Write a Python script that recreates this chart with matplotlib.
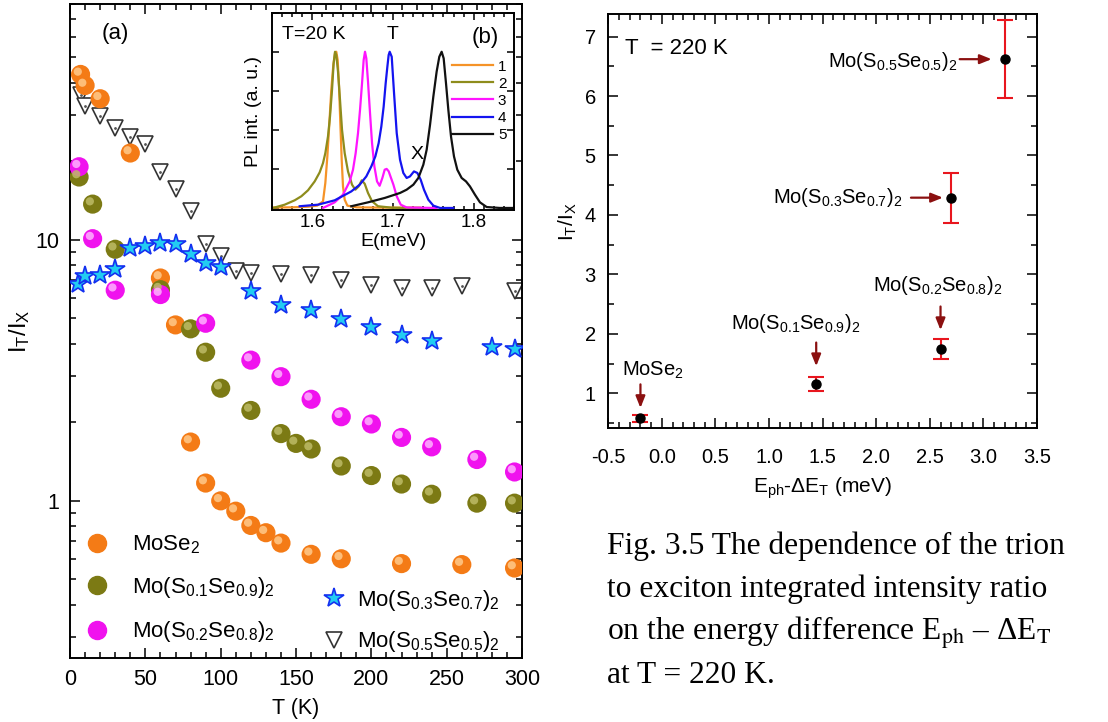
import matplotlib.pyplot as plt
from matplotlib.ticker import MultipleLocator, LogLocator, NullFormatter, FixedLocator
from matplotlib.transforms import ScaledTranslation
from matplotlib.lines import Line2D

plt.rcParams['font.family'] = ['Liberation Sans', 'DejaVu Sans']
plt.rcParams['mathtext.fontset'] = 'custom'
plt.rcParams['mathtext.rm'] = 'Liberation Sans'
plt.rcParams['mathtext.it'] = 'Liberation Sans:italic'
plt.rcParams['mathtext.bf'] = 'Liberation Sans:bold'

# (a) trion / exciton ratio vs temperature
T_mose2 = [7, 10, 20, 40, 60, 70, 80, 90, 100, 110, 120, 130, 140, 160, 180, 220, 260, 295]
R_mose2 = [43.0, 39.0, 34.7, 21.5, 7.14, 4.72, 1.68, 1.17, 1.00, 0.913, 0.805, 0.755, 0.689, 0.624, 0.60, 0.575, 0.57, 0.553]

T_s01 = [6, 15, 30, 60, 80, 90, 100, 120, 140, 150, 160, 180, 200, 220, 240, 270, 295]
R_s01 = [17.4, 13.7, 9.2, 6.44, 4.56, 3.71, 2.70, 2.22, 1.81, 1.66, 1.58, 1.36, 1.25, 1.16, 1.06, 0.98, 0.98]

T_s02 = [6, 15, 30, 60, 90, 120, 140, 160, 180, 200, 220, 240, 270, 295]
R_s02 = [19.05, 10.1, 6.41, 6.17, 4.79, 3.46, 2.99, 2.45, 2.10, 1.97, 1.75, 1.61, 1.44, 1.29]

T_s03 = [5, 10, 20, 30, 40, 50, 60, 70, 80, 90, 100, 120, 140, 160, 180, 200, 220, 240, 280, 295]
R_s03 = [6.77, 7.24, 7.35, 7.73, 9.29, 9.43, 9.71, 9.63, 8.84, 8.15, 7.84, 6.37, 5.62, 5.40, 4.98, 4.64, 4.30, 4.09, 3.89, 3.83]

T_s05 = [7, 10, 20, 30, 40, 50, 60, 70, 80, 90, 100, 110, 120, 140, 160, 180, 200, 220, 240, 260, 295]
R_s05 = [35.8, 32.5, 29.7, 26.7, 24.8, 23.2, 18.2, 15.6, 12.9, 9.63, 8.69, 7.57, 7.46, 7.42, 7.35, 7.03, 6.73, 6.54, 6.54, 6.63, 6.35]

# (b) normalised PL spectra at 20 K
E_1 = [1.551, 1.575, 1.595, 1.606, 1.6132, 1.6161, 1.6186, 1.6211, 1.6235, 1.6260, 1.6281, 1.6297, 1.6314,
       1.6331, 1.6347, 1.6364, 1.6380, 1.6401, 1.6434, 1.655, 1.69, 1.733]
I_1 = [0.003, 0.004, 0.008, 0.015, 0.042, 0.16, 0.33, 0.543, 0.756, 0.915, 0.99, 1.0, 0.947,
       0.777, 0.543, 0.308, 0.138, 0.053, 0.015, 0.004, 0.002, 0.002]

E_2 = [1.5512, 1.5657, 1.5781, 1.5864, 1.5946, 1.6029, 1.6091, 1.6132, 1.6161, 1.6194, 1.6219, 1.6244, 1.6264,
       1.6281, 1.6297, 1.6318, 1.6343, 1.6368, 1.6401, 1.6442, 1.6492, 1.6533, 1.6574, 1.6612, 1.6649, 1.6690,
       1.6740, 1.6814, 1.6979, 1.715, 1.735]
I_2 = [0.0, 0.021, 0.049, 0.075, 0.113, 0.170, 0.228, 0.287, 0.351, 0.458, 0.585, 0.756, 0.926,
       1.0, 0.979, 0.873, 0.692, 0.5, 0.351, 0.234, 0.149, 0.117, 0.138, 0.177, 0.155, 0.096,
       0.043, 0.011, 0.002, 0.0, 0.0]

E_3 = [1.6132, 1.6277, 1.6380, 1.6463, 1.6504, 1.6537, 1.6566, 1.6591, 1.6616, 1.6636, 1.6653, 1.6669, 1.6690,
       1.6715, 1.6740, 1.6769, 1.6802, 1.6834, 1.6868, 1.6897, 1.6921, 1.6946, 1.6963, 1.7005, 1.7046, 1.7096,
       1.717, 1.754]
I_3 = [0.0, 0.036, 0.085, 0.170, 0.245, 0.351, 0.479, 0.628, 0.798, 0.947, 1.0, 0.958, 0.809,
       0.607, 0.415, 0.266, 0.170, 0.142, 0.192, 0.245, 0.25, 0.235, 0.21, 0.149, 0.075, 0.021,
       0.003, 0.0]

E_4 = [1.5843, 1.6070, 1.6277, 1.6483, 1.6587, 1.6669, 1.6731, 1.6781, 1.6822, 1.6855, 1.6884, 1.6909, 1.6930,
       1.6946, 1.6959, 1.6984, 1.7013, 1.7046, 1.7087, 1.7128, 1.7169, 1.7210, 1.7260, 1.7302, 1.7343, 1.7384,
       1.7438, 1.7500, 1.7583, 1.7748]
I_4 = [0.011, 0.021, 0.049, 0.106, 0.149, 0.202, 0.266, 0.330, 0.415, 0.521, 0.649, 0.798, 0.904,
       0.979, 1.0, 0.968, 0.734, 0.479, 0.309, 0.224, 0.192, 0.202, 0.234, 0.224, 0.181, 0.117,
       0.053, 0.015, 0.0, 0.0]

E_5 = [1.6483, 1.6690, 1.6897, 1.7087, 1.7169, 1.7252, 1.7314, 1.7376, 1.7417, 1.7459, 1.7500, 1.7541, 1.7574,
       1.7603, 1.7628, 1.7657, 1.7686, 1.7719, 1.7756, 1.7797, 1.7851, 1.7905, 1.7954, 1.8016, 1.8078, 1.8161,
       1.8326, 1.8491]
I_5 = [0.011, 0.036, 0.064, 0.096, 0.117, 0.149, 0.192, 0.277, 0.372, 0.532, 0.713, 0.873, 0.968,
       1.0, 0.958, 0.798, 0.628, 0.458, 0.330, 0.245, 0.192, 0.170, 0.138, 0.085, 0.036, 0.006,
       0.0, 0.0]

spectra_labels = ['1', '2', '3', '4', '5']

# right panel: ratio at 220 K vs E_ph - dE_T
dE = [-0.2, 1.44, 2.60, 2.70, 3.20]
ratio = [0.575, 1.16, 1.74, 4.29, 6.62]
ratio_err = [0.06, 0.12, 0.17, 0.42, 0.66]
samples = ['MoSe$_2$', 'Mo(S$_{0.1}$Se$_{0.9}$)$_2$', 'Mo(S$_{0.2}$Se$_{0.8}$)$_2$',
           'Mo(S$_{0.3}$Se$_{0.7}$)$_2$', 'Mo(S$_{0.5}$Se$_{0.5}$)$_2$']

caption = ['Fig. 3.5 The dependence of the trion',
           'to exciton integrated intensity ratio',
           r'on the energy difference E$_{\mathrm{ph}}$ – ΔE$_{\mathrm{T}}$',
           'at T = 220 K.']

ORANGE, ORANGE_HI = '#F47B16', '#FFC98A'
OLIVE, OLIVE_HI = '#7C7A14', '#BDBB66'
MAGENTA, MAGENTA_HI = '#F012EE', '#FFB0FF'
STAR_FACE, STAR_EDGE = '#22CCF2', '#1430F0'
ARROW = '#8B1010'


def style_ticks(ax, size=15):
    ax.tick_params(which='both', direction='in', top=True, right=True, labelsize=size, width=1.1)
    ax.tick_params(which='major', length=7)
    ax.tick_params(which='minor', length=4)
    for s in ax.spines.values():
        s.set_linewidth(1.4)


def spheres(ax, x, y, color, hi, label):
    fig = ax.figure
    ax.scatter(x, y, s=190, color=color, edgecolors='none', zorder=3)
    off = ax.transData + ScaledTranslation(-2 / 72, 2 / 72, fig.dpi_scale_trans)
    ax.scatter(x, y, s=35, color=hi, edgecolors='none', alpha=0.85, zorder=4, transform=off)
    return Line2D([], [], ls='none', marker='o', ms=13, color=color, label=label)


fig = plt.figure(figsize=(11.08, 7.22), dpi=100)

# ---------------- panel (a)
ax = fig.add_axes([0.0632, 0.0886, 0.408, 0.9058])
h1 = spheres(ax, T_mose2, R_mose2, ORANGE, ORANGE_HI, samples[0])
h2 = spheres(ax, T_s01, R_s01, OLIVE, OLIVE_HI, samples[1])
h3 = spheres(ax, T_s02, R_s02, MAGENTA, MAGENTA_HI, samples[2])
h4, = ax.plot(T_s03, R_s03, ls='none', marker='*', ms=15, mfc=STAR_FACE, mec=STAR_EDGE, mew=1.2,
              zorder=5, label=samples[3])
h5, = ax.plot(T_s05, R_s05, ls='none', marker='v', ms=12, mfc='white', mec='#333333', mew=1.2,
              zorder=2, label=samples[4])
ax.plot(T_s05, R_s05, ls='none', marker='.', ms=2, color='#555555', zorder=2)

ax.set_yscale('log')
ax.set_xlim(0, 300)
ax.set_ylim(0.25, 80)
ax.xaxis.set_major_locator(MultipleLocator(50))
ax.xaxis.set_minor_locator(MultipleLocator(10))
ax.yaxis.set_major_locator(FixedLocator([1, 10]))
ax.yaxis.set_major_formatter(plt.FuncFormatter(lambda v, p: f'{v:g}'))
ax.yaxis.set_minor_locator(LogLocator(base=10, subs=range(2, 10)))
ax.yaxis.set_minor_formatter(NullFormatter())
style_ticks(ax, 15.5)
ax.tick_params(axis='x', pad=8)
ax.tick_params(axis='y', pad=8)
ax.set_xlabel('T (K)', fontsize=15.5, labelpad=6)
ax.set_ylabel(r'I$_\mathrm{T}$/I$_\mathrm{X}$', fontsize=17, labelpad=2)
ax.text(0.07, 0.955, '(a)', transform=ax.transAxes, fontsize=16, ha='left', va='center')

leg1 = ax.legend(handles=[h1, h2, h3], loc='upper left', bbox_to_anchor=(0.005, 0.204), frameon=False,
                 fontsize=16, handletextpad=0.9, labelspacing=0.86, borderaxespad=0, handlelength=1.4)
ax.add_artist(leg1)
ax.legend(handles=[h4, h5], loc='upper left', bbox_to_anchor=(0.534, 0.121), frameon=False,
          fontsize=16, handletextpad=0.45, labelspacing=0.75, borderaxespad=0, handlelength=1.2)

# ---------------- inset (b)
ins = fig.add_axes([0.2455, 0.7098, 0.2184, 0.2726])
colors = ['#F59328', '#8E8C1C', '#FF14FF', '#1414F0', '#111111']
for E, I, c, lab in zip([E_1, E_2, E_3, E_4, E_5], [I_1, I_2, I_3, I_4, I_5], colors, spectra_labels):
    ins.plot(E, I, color=c, lw=1.6, label=lab)
ins.set_xlim(1.55, 1.85)
ins.set_ylim(-0.01, 1.25)
ins.xaxis.set_major_locator(MultipleLocator(0.1))
ins.xaxis.set_minor_locator(MultipleLocator(0.0125))
ins.yaxis.set_major_locator(MultipleLocator(0.25))
ins.set_yticklabels([])
ins.xaxis.set_major_formatter(plt.FuncFormatter(lambda v, p: f'{v:.1f}'))
style_ticks(ins, 13.5)
ins.tick_params(which='major', length=5)
ins.tick_params(which='minor', length=3)
ins.set_xlabel('E(meV)', fontsize=14, labelpad=1)
ins.set_ylabel('PL int. (a. u.)', fontsize=14, labelpad=4)
ins.text(0.04, 0.89, 'T=20 K', transform=ins.transAxes, fontsize=14, ha='left', va='center')
ins.text(0.5, 0.89, 'T', transform=ins.transAxes, fontsize=14, ha='center', va='center')
ins.text(0.6, 0.28, 'X', transform=ins.transAxes, fontsize=14, ha='center', va='center')
ins.text(0.88, 0.875, '(b)', transform=ins.transAxes, fontsize=16, ha='center', va='center')
ins.legend(loc='upper right', bbox_to_anchor=(1.0, 0.8), frameon=False, fontsize=11,
           handlelength=2.7, handletextpad=0.3, labelspacing=0.2, borderaxespad=0.1)

# ---------------- right panel
ax2 = fig.add_axes([0.549, 0.4068, 0.3869, 0.5738])
ax2.errorbar(dE, ratio, yerr=ratio_err, fmt='none', ecolor='#E8161E', elinewidth=1.5,
             capsize=6, capthick=1.5, zorder=2)
ax2.plot(dE, ratio, ls='none', marker='o', ms=6.5, color='black', zorder=3)
ax2.set_xlim(-0.5, 3.5)
ax2.set_ylim(0.41, 7.38)
ax2.xaxis.set_major_locator(MultipleLocator(0.5))
ax2.xaxis.set_minor_locator(MultipleLocator(0.1))
ax2.yaxis.set_major_locator(MultipleLocator(1))
ax2.yaxis.set_minor_locator(MultipleLocator(0.5))
ax2.xaxis.set_major_formatter(plt.FuncFormatter(lambda v, p: f'{v:.1f}'))
style_ticks(ax2, 14.5)
ax2.tick_params(axis='x', pad=14)
ax2.tick_params(axis='y', pad=9)
ax2.set_xlabel(r'E$_\mathrm{ph}$-ΔE$_\mathrm{T}$ (meV)', fontsize=15, labelpad=6)
ax2.set_ylabel(r'I$_\mathrm{T}$/I$_\mathrm{X}$', fontsize=15, labelpad=4)
ax2.text(0.039, 0.917, 'T  = 220 K', transform=ax2.transAxes, fontsize=16, ha='left', va='center')

arrow_kw = dict(arrowstyle='-|>,head_length=0.7,head_width=0.28', color=ARROW, lw=1.6,
                shrinkA=0, mutation_scale=10)
# vertical arrows above the first three points
v_gap = [5, 7.5, 6.5]
v_text = [(-13, 28), (-15, 34), (-2, 35)]
v_ha = ['left', 'center', 'center']
for i in range(3):
    top = (dE[i], ratio[i] + ratio_err[i])
    ax2.annotate('', xy=top, xytext=(0, v_gap[i] + 17), textcoords='offset points',
                 arrowprops=dict(arrow_kw, shrinkB=v_gap[i]))
    ax2.annotate(samples[i], xy=top, xytext=v_text[i], textcoords='offset points',
                 fontsize=14.5, ha=v_ha[i], va='baseline')
# horizontal arrows for the last two points
h_gap = [6, 9.5]
h_text = [(-35, -4), (-34, -5.5)]
for j, i in enumerate([3, 4]):
    pt = (dE[i], ratio[i])
    ax2.annotate('', xy=pt, xytext=(-(h_gap[j] + 23), 0), textcoords='offset points',
                 arrowprops=dict(arrow_kw, shrinkB=h_gap[j]))
    ax2.annotate(samples[i], xy=pt, xytext=h_text[j], textcoords='offset points',
                 fontsize=14.5, ha='right', va='baseline')

# ---------------- caption
for k, line in enumerate(caption):
    fig.text(0.5476, 1 - (554 + 43 * k) / 722, line, fontsize=22.7, family=['Liberation Serif', 'DejaVu Serif'],
             math_fontfamily='stix', ha='left', va='baseline')

fig.savefig('out.png', dpi=100)
